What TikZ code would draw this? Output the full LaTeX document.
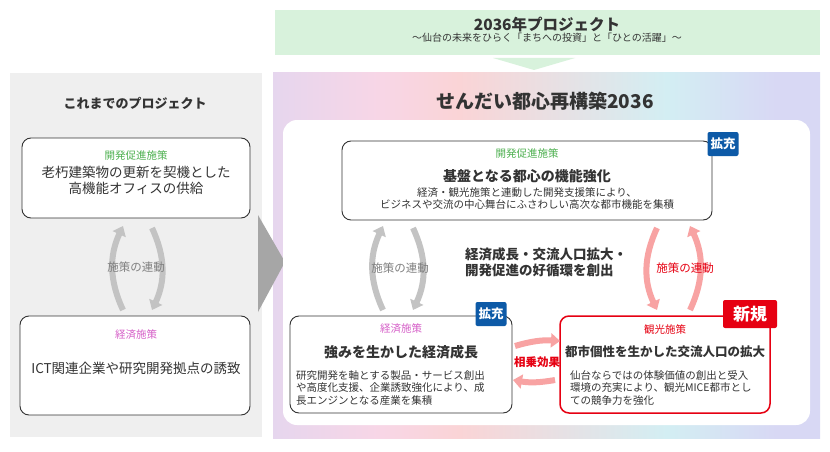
\documentclass[tikz,border=0pt]{standalone}
\usepackage{fontspec}
\setmainfont{Noto Sans CJK JP}
\usetikzlibrary{positioning,arrows.meta,calc}
\definecolor{purpleish}{HTML}{E6D6EE}
\definecolor{pinkish}{HTML}{F8D6E6}
\definecolor{redish}{HTML}{FAD4D6}
\definecolor{cyanish}{HTML}{D3EEF3}
\definecolor{lavish}{HTML}{D8D8F4}
\pgfdeclarehorizontalshading{rainbow}{100bp}{color(0bp)=(purpleish); color(25bp)=(purpleish); color(35bp)=(pinkish); color(42bp)=(redish); color(61bp)=(cyanish); color(71bp)=(lavish); color(100bp)=(lavish)}
\begin{document}
\begin{tikzpicture}[x=1pt,y=-1pt]
       \definecolor{band}{HTML}{D8F2DC}
       \definecolor{panel}{HTML}{EFEFEF}
       \definecolor{darkgrey}{HTML}{333333}
       \definecolor{headgreen}{HTML}{4DB04F}
       \definecolor{headpink}{HTML}{D65FC8}
       \definecolor{headred}{HTML}{E60012}
       \definecolor{badgeblue}{HTML}{0D5AA7}
       \definecolor{arrowgrey}{HTML}{C3C3C3}
       \definecolor{arrowpink}{HTML}{F8A3A3}
       \tikzstyle{block}     = [draw = darkgrey, line width=0.9pt, rounded corners=9pt, fill=white]
       \tikzstyle{head}      = [font=\fontsize{10.5}{12}\selectfont]
       \tikzstyle{main}      = [font=\fontsize{13.5}{16}\selectfont, text=darkgrey, align=center]
       \tikzstyle{desc}      = [font=\fontsize{10.5}{12.5}\selectfont, text=darkgrey, inner sep=1pt]
       \tikzstyle{badge}     = [rounded corners=2pt, text=white, font=\bfseries\fontsize{12.5}{14}\selectfont, inner sep=3pt, minimum height=24pt]
       \tikzstyle{connector} = [line width=6pt, -{Triangle[length=9pt,width=14pt]}]
       \useasboundingbox (0,0) rectangle (830,452);
       \fill [white] (0,0) rectangle (830,452);
       % top band
       \fill [band] (275,10) rectangle (820,55);
       \fill [band] (493,58) -- (575,58) -- (534,70) -- cycle;
       \node [font=\bfseries\fontsize{15.5}{18}\selectfont, text=darkgrey] (project) at (547,25) {2036年プロジェクト};
       \node [below = -6pt of project, font=\fontsize{10}{12}\selectfont, text=darkgrey] (projectsub) {～仙台の未来をひらく「まちへの投資」と「ひとの活躍」～};
       % panels
       \fill [panel] (10,73) rectangle (262,437);
       \shade [shading=rainbow] (273,73) rectangle (820,438);
       \fill [arrowgrey!85!black] (258,215) -- (285,262) -- (258,312) -- cycle;
       \fill [white, rounded corners=14pt] (283,120) rectangle (810,425);
       \node [font=\bfseries\fontsize{13}{15}\selectfont, text=darkgrey] (oldtitle) at (135,103) {これまでのプロジェクト};
       \node [font=\bfseries\fontsize{19}{22}\selectfont, text=darkgrey] (newtitle) at (545,101) {せんだい都心再構築2036};
       % old project
       \draw [block] (22,138) rectangle (250,218);
       \node [head, text=headgreen] (olddevhead) at (136,156) {開発促進施策};
       \node [main, below = -2pt of olddevhead] (olddev) {老朽建築物の更新を契機とした\\高機能オフィスの供給};
       \draw [block] (20,316) rectangle (250,415);
       \node [head, text=headpink] (oldecohead) at (136,335) {経済施策};
       \node [main] (oldeco) at (136,368) {ICT関連企業や研究開発拠点の誘致};
       \coordinate (oldup1) at (123,310);  \coordinate (oldup2) at (123,226);
       \coordinate (olddn1) at (152,228);  \coordinate (olddn2) at (152,310);
       \draw [connector, arrowgrey] (oldup1) to [bend left=25] (oldup2);
       \draw [connector, arrowgrey] (olddn1) to [bend left=25] (olddn2);
       \node [desc, text=gray, font=\fontsize{11.5}{13}\selectfont] (oldlink) at (136,267) {施策の連動};
       % new project: development
       \draw [block] (342,141) rectangle (712,220);
       \node [badge, fill=badgeblue] (devbadge) at (723,144) {拡充};
       \node [head, text=headgreen] (devhead) at (527,154) {開発促進施策};
       \node [main, font=\bfseries\fontsize{14}{16}\selectfont] (dev) at (527,176) {基盤となる都心の機能強化};
       \node [desc, align=center, below = 0pt of dev] (devdesc) {経済・観光施策と連動した開発支援策により、\\ビジネスや交流の中心舞台にふさわしい高次な都市機能を集積};
       % economy
       \draw [block] (290,316) rectangle (512,413);
       \node [badge, fill=badgeblue] (ecobadge) at (491,314) {拡充};
       \node [head, text=headpink] (ecohead) at (401,329) {経済施策};
       \node [main, font=\bfseries\fontsize{14}{16}\selectfont] (eco) at (401,352) {強みを生かした経済成長};
       \node [desc, align=left, anchor=north west] (ecodesc) at (295,369) {研究開発を軸とする製品・サービス創出\\や高度化支援、企業誘致強化により、成\\長エンジンとなる産業を集積};
       % tourism
       \draw [block, draw=headred, line width=1.5pt] (560,316) rectangle (770,413);
       \node [badge, fill=headred, font=\bfseries\fontsize{17}{19}\selectfont, minimum width=54pt, minimum height=28pt] (tourbadge) at (750,314) {新規};
       \node [head, text=headred] (tourhead) at (665,329) {観光施策};
       \node [main, font=\bfseries\fontsize{12.5}{15}\selectfont] (tour) at (665,352) {都市個性を生かした交流人口の拡大};
       \node [desc, align=left, anchor=north west] (tourdesc) at (569,369) {仙台ならではの体験価値の創出と受入\\環境の充実により、観光MICE都市とし\\ての競争力を強化};
       % links
       \node [main, font=\bfseries\fontsize{13.5}{16}\selectfont, align=left] (cycle) at (546,262) {経済成長・交流人口拡大・\\開発促進の好循環を創出};
       \coordinate (ecoup1) at (383,310);  \coordinate (ecoup2) at (383,226);
       \coordinate (ecodn1) at (413,228);  \coordinate (ecodn2) at (413,310);
       \draw [connector, arrowgrey] (ecoup1) to [bend left=25] (ecoup2);
       \draw [connector, arrowgrey] (ecodn1) to [bend left=25] (ecodn2);
       \node [desc, text=gray, font=\fontsize{11.5}{13}\selectfont] (ecolink) at (400,268) {施策の連動};
       \coordinate (tourdn1) at (657,228); \coordinate (tourdn2) at (657,310);
       \coordinate (tourup1) at (690,310); \coordinate (tourup2) at (690,226);
       \draw [connector, arrowpink] (tourdn1) to [bend right=25] (tourdn2);
       \draw [connector, arrowpink] (tourup1) to [bend right=25] (tourup2);
       \node [desc, text=headred, font=\fontsize{11.5}{13}\selectfont] (tourlink) at (685,268) {施策の連動};
       \coordinate (synr1) at (515,346);   \coordinate (synr2) at (560,341);
       \coordinate (synl1) at (555,380);   \coordinate (synl2) at (513,380);
       \draw [connector, arrowpink] (synr1) to [bend left=10] (synr2);
       \draw [connector, arrowpink] (synl1) to [bend left=10] (synl2);
       \node [desc, text=headred, font=\bfseries\fontsize{11.5}{13}\selectfont] (synergy) at (537,362) {相乗効果};
     \end{tikzpicture}
\end{document}
